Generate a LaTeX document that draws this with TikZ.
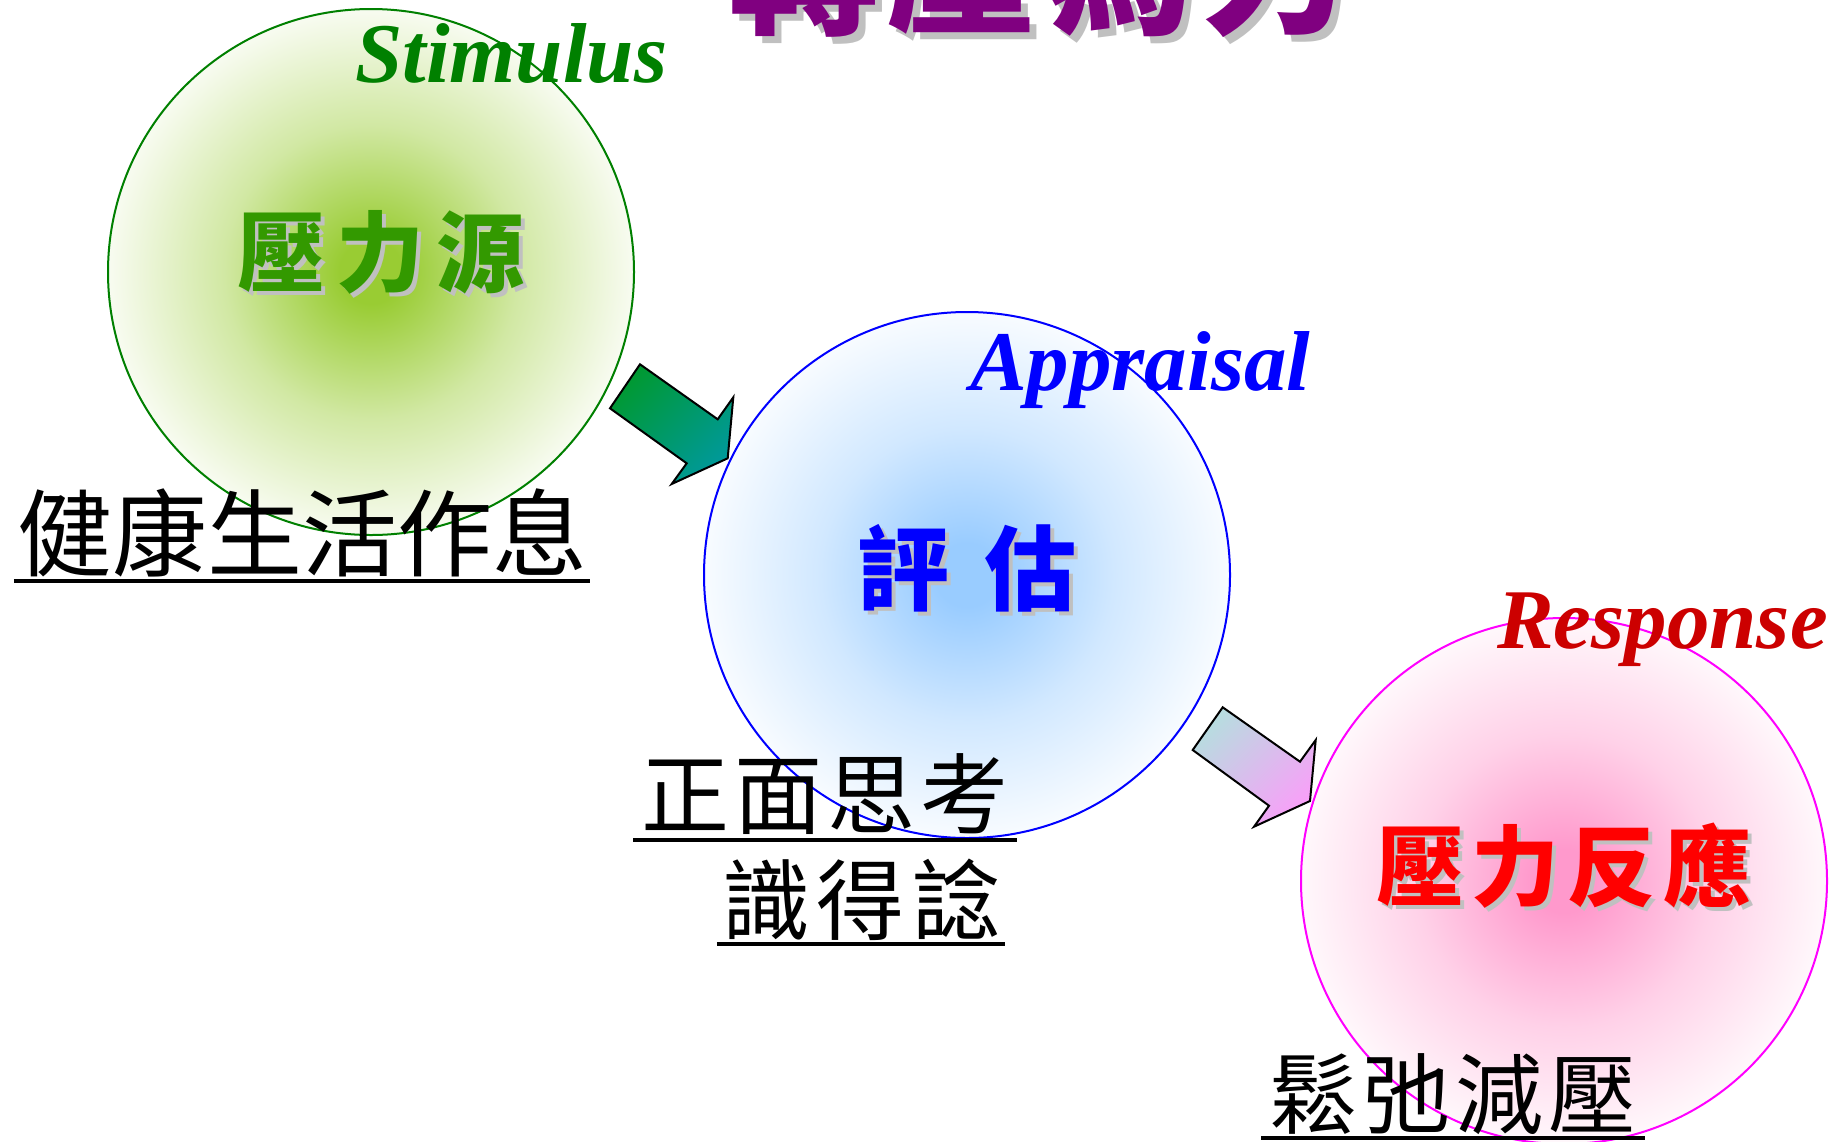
\documentclass[tikz,border=0pt]{standalone}
\usepackage{fontspec}
\setmainfont{Liberation Serif}
\newfontfamily\cjk{Noto Sans CJK TC}
\definecolor{ballg}{HTML}{99CC33}
\definecolor{ballb}{HTML}{99CCFF}
\definecolor{ballp}{HTML}{FF99CC}
\definecolor{gline}{HTML}{008000}
\definecolor{bline}{HTML}{0000FF}
\definecolor{pline}{HTML}{FF00FF}
\definecolor{gtxt}{HTML}{339900}
\definecolor{btxt}{HTML}{0000FF}
\definecolor{rtxt}{HTML}{FF0000}
\definecolor{resp}{HTML}{CC0000}
\definecolor{ttl}{HTML}{800080}
\definecolor{shd}{HTML}{C0C0C0}
\definecolor{a1a}{HTML}{009933}
\definecolor{a1b}{HTML}{009999}
\definecolor{a2a}{HTML}{B8DCE0}
\definecolor{a2b}{HTML}{F8A0F8}
\pgfdeclareradialshading{greenball}{\pgfpoint{0bp}{0bp}}{color(0bp)=(ballg); color(3bp)=(ballg); color(14bp)=(ballg!45!white); color(27bp)=(white); color(50bp)=(white)}
\pgfdeclareradialshading{blueball}{\pgfpoint{0bp}{0bp}}{color(0bp)=(ballb); color(3bp)=(ballb); color(14bp)=(ballb!45!white); color(27bp)=(white); color(50bp)=(white)}
\pgfdeclareradialshading{pinkball}{\pgfpoint{0bp}{0bp}}{color(0bp)=(ballp); color(3bp)=(ballp); color(14bp)=(ballp!45!white); color(27bp)=(white); color(50bp)=(white)}
\tikzset{
  ball/.style={circle, inner sep=0pt, minimum size=526pt, line width=2pt},
  en/.style={inner sep=0pt, anchor=base west, font=\fontsize{85pt}{90pt}\selectfont\bfseries\itshape},
  cjkin/.style={inner sep=0pt, font=\cjk\bfseries\fontsize{88pt}{100pt}\selectfont},
  cjkshadow/.style={cjkin, text=shd},
  cjklab/.style={inner sep=0pt, font=\cjk\fontsize{88pt}{100pt}\selectfont, text=black},
  uline/.style={line width=4pt, black},
  blockarrow/.style={draw=black, line width=2pt, line join=miter},
  ttlfont/.style={inner sep=0pt, anchor=base, font=\cjk\bfseries\fontsize{150pt}{160pt}\selectfont}
}
\begin{document}
\begin{tikzpicture}[x=1pt,y=-1pt]
\useasboundingbox (0,0) rectangle (1836,1141);
\clip (0,0) rectangle (1836,1141);
\fill[white] (0,0) rectangle (1836,1141);
% title (cut off at top)
\node[ttlfont, text=shd] (ttls) at (1047,29) {轉\hspace{7pt}壓\hspace{7pt}為\hspace{7pt}力};
\node[ttlfont, text=ttl] (ttl) at (1040,22) {轉\hspace{7pt}壓\hspace{7pt}為\hspace{7pt}力};
% circles
\node[ball, shading=greenball, draw=gline] (c1) at (371,272) {};
\node[ball, shading=blueball, draw=bline] (c2) at (967,575) {};
\node[ball, shading=pinkball, draw=pline] (c3) at (1564,881) {};
% block arrows
\draw[blockarrow, top color=a1a, bottom color=a1b, shading angle=45]
  (610,408.3) -- (640,364.3) -- (717.7,419.3) -- (733.3,397.3) -- (727.7,458.3) -- (671.7,484) -- (686.7,463.3) -- cycle;
\draw[blockarrow, top color=a2a, bottom color=a2b, shading angle=45]
  (1192.7,750) -- (1222.7,707.3) -- (1300,761.7) -- (1315.7,740) -- (1310,801) -- (1254,826.7) -- (1269,805.7) -- cycle;
% English labels
\node[en, text=gline] (stim) at (355,82) {Stimulus};
\node[en, text=btxt] (appr) at (970,390) {Appraisal};
\node[en, text=resp] (resp) at (1497,648) {Response};
% inner labels with shadow
\node[cjkshadow] (l1s) at (385,256) {壓\hspace{12pt}力\hspace{12pt}源};
\node[cjkin, text=gtxt] (l1) at (381,252) {壓\hspace{12pt}力\hspace{12pt}源};
\node[cjkshadow, font=\cjk\bfseries\fontsize{92pt}{100pt}\selectfont] (l2s) at (971,572) {評\hspace{35pt}估};
\node[cjkin, text=btxt, font=\cjk\bfseries\fontsize{92pt}{100pt}\selectfont] (l2) at (967,568) {評\hspace{35pt}估};
\node[cjkshadow] (l3s) at (1568,870) {壓\hspace{8pt}力\hspace{8pt}反\hspace{8pt}應};
\node[cjkin, text=rtxt] (l3) at (1564,866) {壓\hspace{8pt}力\hspace{8pt}反\hspace{8pt}應};
% black labels
\node[cjklab, font=\cjk\fontsize{95pt}{100pt}\selectfont] (b1) at (302,533) {健康生活作息};
\node[cjklab] (b2) at (825,794) {正\hspace{5pt}面\hspace{5pt}思\hspace{5pt}考};
\node[cjklab] (b3) at (861,900) {識\hspace{7pt}得\hspace{7pt}諗};
\node[cjklab] (b4) at (1453,1094) {鬆\hspace{5pt}弛\hspace{5pt}減\hspace{5pt}壓};
\draw[uline] ([xshift=-3pt,yshift=-4pt]b1.south west) -- ([xshift=3pt,yshift=-4pt]b1.south east);
\draw[uline] ([xshift=-8pt,yshift=-5pt]b2.south west) -- ([xshift=8pt,yshift=-5pt]b2.south east);
\draw[uline] ([xshift=-5pt,yshift=-3pt]b3.south west) -- ([xshift=5pt,yshift=-3pt]b3.south east);
\draw[uline] ([xshift=-8pt,yshift=-3pt]b4.south west) -- ([xshift=8pt,yshift=-3pt]b4.south east);
\end{tikzpicture}
\end{document}
